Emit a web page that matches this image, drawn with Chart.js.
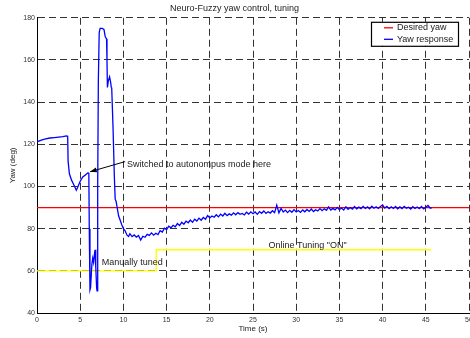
<!DOCTYPE html>
<html>
<head>
<meta charset="utf-8">
<script src="https://cdn.jsdelivr.net/npm/chart.js@4.4.1/dist/chart.umd.min.js"></script>
<style>
  html, body { margin: 0; padding: 0; background: #fff; }
  canvas { display: block; }
</style>
</head>
<body>
<canvas id="yawChart" width="470" height="338"></canvas>
<script>
// recorded yaw response (time in s, yaw in deg)
const timeS = [
  0, 0.5, 1, 1.5, 2, 2.5, 3, 3.4, 3.55, 3.6, 3.75, 4, 4.3, 4.55, 4.7, 5, 5.3, 5.6, 5.9, 6,
  6.05, 6.13, 6.2, 6.35, 6.45, 6.55, 6.65, 6.72, 6.8, 6.9, 6.95, 7, 7.05, 7.1, 7.2, 7.3, 7.55, 7.75, 7.9, 8.05,
  8.1, 8.15, 8.25, 8.4, 8.5, 8.6, 8.65, 8.8, 8.95, 9.05, 9.15, 9.3, 9.45, 9.6, 9.8, 10, 10.2, 10.4, 10.6,
  10.75, 11, 11.25, 11.5, 11.75, 12, 12.25, 12.5, 12.75, 13, 13.25, 13.5, 13.75, 14, 14.25, 14.5, 14.75,
  15, 15.25, 15.5, 15.75, 16, 16.25, 16.5, 16.75, 17, 17.25, 17.5, 17.75, 18, 18.25, 18.5, 18.75,
  19, 19.25, 19.5, 19.75, 20, 20.25, 20.5, 20.75, 21, 21.25, 21.5, 21.75, 22, 22.25, 22.5, 22.75,
  23, 23.25, 23.5, 23.75, 24, 24.25, 24.5, 24.75, 25, 25.25, 25.5, 25.75, 26, 26.25, 26.5, 26.75,
  27, 27.25, 27.5, 27.75, 28, 28.25, 28.5, 28.75, 29, 29.25, 29.5, 29.75, 30, 30.25, 30.5, 30.75,
  31, 31.25, 31.5, 31.75, 32, 32.25, 32.5, 32.75, 33, 33.25, 33.5, 33.75, 34, 34.25, 34.5, 34.75,
  35, 35.25, 35.5, 35.75, 36, 36.25, 36.5, 36.75, 37, 37.25, 37.5, 37.75, 38, 38.25, 38.5, 38.75,
  39, 39.25, 39.5, 39.75, 40, 40.25, 40.5, 40.75, 41, 41.25, 41.5, 41.75, 42, 42.25, 42.5, 42.75,
  43, 43.25, 43.5, 43.75, 44, 44.25, 44.5, 44.75, 45, 45.25, 45.5, 45.6
];
const yawDeg = [
  121.2, 122.0, 122.6, 123.0, 123.2, 123.4, 123.6, 124.0, 123.8, 112.0, 106.0, 103.0, 100.5, 98.2, 99.5, 102.5, 104.5, 105.5, 106.5, 106.2,
  80.0, 51.0, 52.0, 63.0, 66.0, 64.0, 68.0, 70.0, 62.0, 52.0, 50.5, 60.0, 100.0, 150.0, 173.0, 175.0, 175.0, 174.5, 171.0, 170.0,
  160.0, 147.0, 150.0, 152.0, 150.0, 147.0, 146.5, 128.0, 105.0, 94.0, 93.0, 89.5, 86.0, 84.3, 82.0, 80.0, 79.0, 77.0, 76.3,
  77.6, 76.2, 77.0, 76.0, 76.8, 74.6, 76.4, 75.9, 77.3, 76.8, 78.0, 76.9, 77.8, 77.2, 79.0, 78.4, 80.2,
  79.6, 81.2, 80.4, 81.6, 80.9, 82.4, 81.5, 83.0, 82.1, 83.6, 82.8, 84.1, 83.0, 84.5, 83.6, 85.0,
  84.0, 85.3, 84.5, 86.2, 85.1, 86.0, 85.4, 86.6, 85.6, 86.9, 86.0, 87.3, 86.2, 87.0, 86.4, 87.5,
  86.6, 87.6, 86.8, 87.2, 86.5, 87.8, 86.9, 88.0, 87.1, 87.9, 86.8, 88.1, 87.3, 88.4, 87.2, 88.0,
  87.4, 88.5, 87.6, 91.2, 87.5, 89.6, 87.9, 88.8, 87.6, 88.7, 87.8, 89.0, 87.9, 88.6, 87.7, 88.9,
  88.0, 89.1, 88.2, 89.3, 88.1, 89.0, 88.4, 89.5, 88.5, 89.4, 88.7, 90.3, 88.8, 89.6, 88.9, 90.1,
  89.0, 89.8, 88.8, 90.4, 89.2, 90.0, 89.3, 90.5, 89.4, 90.2, 89.5, 90.6, 89.6, 90.3, 89.4, 90.7,
  89.7, 90.4, 89.6, 90.5, 91.3, 89.8, 90.6, 89.5, 90.4, 89.6, 90.5, 89.4, 90.3, 89.5, 90.6, 89.7,
  90.2, 89.3, 90.4, 89.6, 90.3, 89.5, 90.5, 89.4, 90.2, 91.0, 89.8, 90.1
];
// desired yaw reference
const desiredT = [0, 50];
const desiredYaw = [90, 90];
// online tuning flag trace (60 = off, 70 = on)
const tuningT = [0, 13.8, 13.8, 45.6];
const tuningLevel = [60, 60, 70, 70];
// tick values
const xTickValues = [0, 5, 10, 15, 20, 25, 30, 35, 40, 45, 50];
const yTickValues = [40, 60, 80, 100, 120, 140, 160, 180];

const toPoints = (xs, ys) => xs.map((x, i) => ({ x: x, y: ys[i] }));

const FONT = "'Liberation Sans', Arial, Helvetica, sans-serif";
Chart.defaults.font.family = FONT;
Chart.defaults.color = '#222';

// free text labels and the arrow, placed in data coordinates
const notesPlugin = {
    id: 'notes',
    afterDatasetsDraw(chart) {
        const { ctx, scales: { x, y } } = chart;
        ctx.save();
        ctx.fillStyle = '#222';
        ctx.font = '9px ' + FONT;
        ctx.textBaseline = 'middle';
        ctx.fillText('Switched to autonompus mode here', x.getPixelForValue(10.42), y.getPixelForValue(110.2));
        ctx.fillText('Manually tuned', x.getPixelForValue(7.5), y.getPixelForValue(64.1));
        ctx.fillText('Online Tuning "ON"', x.getPixelForValue(26.8), y.getPixelForValue(72));

        // arrow
        const x1 = x.getPixelForValue(10.2), y1 = y.getPixelForValue(111.8);
        const x2 = x.getPixelForValue(6.15), y2 = y.getPixelForValue(107);
        ctx.strokeStyle = '#000';
        ctx.fillStyle = '#000';
        ctx.lineWidth = 1;
        ctx.beginPath();
        ctx.moveTo(x1, y1);
        ctx.lineTo(x2, y2);
        ctx.stroke();
        const ang = Math.atan2(y2 - y1, x2 - x1);
        ctx.beginPath();
        ctx.moveTo(x2, y2);
        ctx.lineTo(x2 - 7 * Math.cos(ang - 0.35), y2 - 7 * Math.sin(ang - 0.35));
        ctx.lineTo(x2 - 7 * Math.cos(ang + 0.35), y2 - 7 * Math.sin(ang + 0.35));
        ctx.closePath();
        ctx.fill();
        ctx.restore();
    }
};

// boxed legend inside the top right corner
const boxLegendPlugin = {
    id: 'boxLegend',
    afterDraw(chart) {
        const { ctx, chartArea } = chart;
        const items = ['Desired yaw', 'Yaw response']
            .map(l => chart.data.datasets.find(d => d.label === l));
        const left = chartArea.right - 98, top = chartArea.top + 4;
        const w = 87, h = 24;
        ctx.save();
        ctx.fillStyle = '#fff';
        ctx.fillRect(left, top, w, h);
        ctx.strokeStyle = '#000';
        ctx.lineWidth = 1.2;
        ctx.strokeRect(left + 0.5, top + 0.5, w, h);
        ctx.font = '9px ' + FONT;
        ctx.textBaseline = 'middle';
        items.forEach((ds, i) => {
            const yy = top + 6 + i * 11.5;
            ctx.strokeStyle = ds.borderColor;
            ctx.lineWidth = 1.3;
            ctx.beginPath();
            ctx.moveTo(left + 13, yy);
            ctx.lineTo(left + 22, yy);
            ctx.stroke();
            ctx.fillStyle = '#222';
            ctx.fillText(ds.label, left + 26, yy);
        });
        ctx.restore();
    }
};

new Chart(document.getElementById('yawChart'), {
    type: 'line',
    data: {
        datasets: [
            {
                label: 'Desired yaw',
                data: toPoints(desiredT, desiredYaw),
                borderColor: '#ff0000',
                borderWidth: 1.3,
                order: 2
            },
            {
                label: 'Yaw response',
                data: toPoints(timeS, yawDeg),
                borderColor: '#0000ff',
                borderWidth: 1.3,
                order: 1
            },
            {
                label: 'Tuning',
                data: toPoints(tuningT, tuningLevel),
                borderColor: '#ffff00',
                borderWidth: 1.4,
                order: 3
            }
        ]
    },
    options: {
        responsive: false,
        animation: false,
        devicePixelRatio: 1,
        elements: { point: { radius: 0 }, line: { tension: 0 } },
        layout: { padding: { right: 1 } },
        plugins: {
            legend: { display: false },
            tooltip: { enabled: false },
            title: {
                display: true,
                text: 'Neuro-Fuzzy yaw control, tuning',
                color: '#222',
                font: { size: 9, weight: 'normal' },
                padding: { top: 3, bottom: 4 }
            }
        },
        scales: {
            x: {
                type: 'linear',
                min: 0,
                max: 50,
                afterBuildTicks: s => { s.ticks = xTickValues.map(v => ({ value: v })); },
                afterFit: s => { s.height = 25; s.paddingLeft = 0; s.paddingRight = 0; },
                ticks: { font: { size: 7 }, color: '#333', padding: 3, maxRotation: 0, autoSkip: false },
                grid: { color: 'rgba(0,0,0,0.8)', lineWidth: 1, drawTicks: false },
                border: { display: true, color: '#000', width: 1, dash: [7, 4] },
                title: { display: true, text: 'Time (s)', font: { size: 8 }, color: '#222', padding: { top: 0, bottom: 4 } }
            },
            y: {
                min: 40,
                max: 180,
                afterBuildTicks: s => { s.ticks = yTickValues.map(v => ({ value: v })); },
                afterFit: s => { s.width = 37; },
                ticks: { font: { size: 7 }, color: '#333', padding: 2, autoSkip: false },
                grid: { color: 'rgba(0,0,0,0.8)', lineWidth: 1, drawTicks: false },
                border: { display: true, color: '#000', width: 1, dash: [7, 4] },
                title: { display: true, text: 'Yaw (deg)', font: { size: 8 }, color: '#222', padding: { top: 8, bottom: 0 } }
            }
        }
    },
    plugins: [notesPlugin, boxLegendPlugin]
});
</script>
</body>
</html>
